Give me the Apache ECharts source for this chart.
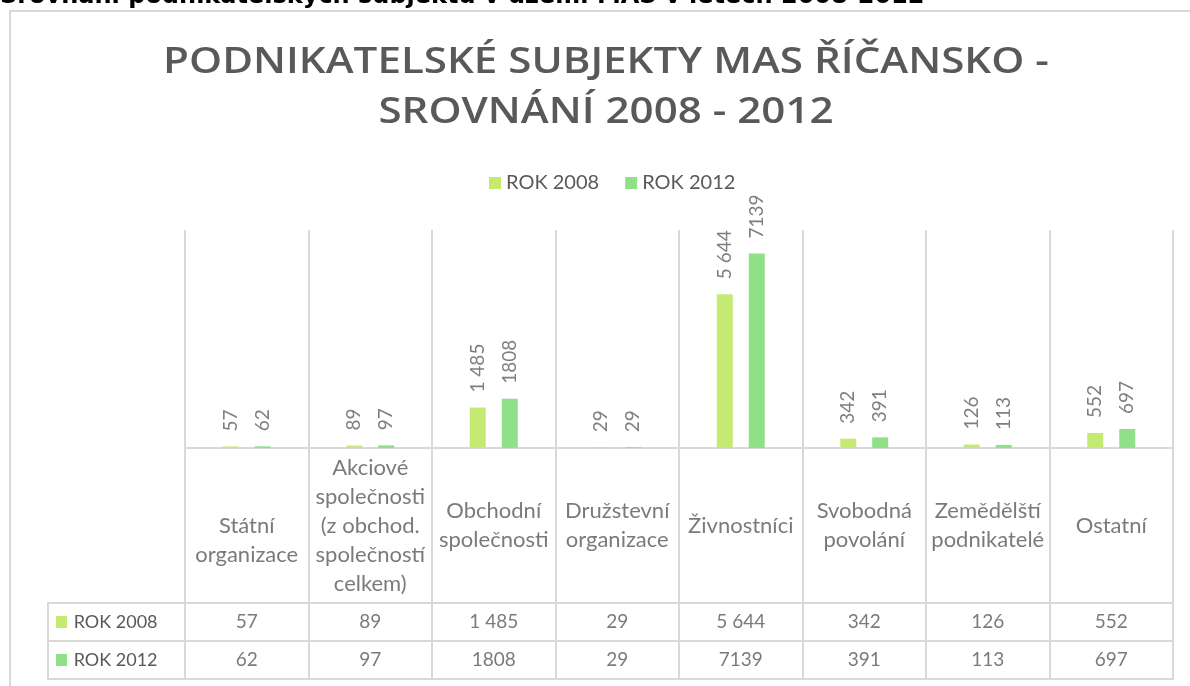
<!DOCTYPE html>
<html>
<head>
<meta charset="utf-8">
<script src="https://cdn.jsdelivr.net/npm/echarts@6/dist/echarts.min.js"></script>
<style>html,body{margin:0;padding:0;background:#fff}#c{width:1190px;height:686px}</style>
</head>
<body>
<div id="c"></div>
<script>
const pageHeading = 'Srovnání podnikatelských subjektů v území MAS v letech 2008-2012';
const chartTitle = 'PODNIKATELSKÉ SUBJEKTY MAS ŘÍČANSKO -\nSROVNÁNÍ 2008 - 2012';
const categories = ['Státní\norganizace', 'Akciové\nspolečnosti\n(z obchod.\nspolečností\ncelkem)', 'Obchodní\nspolečnosti', 'Družstevní\norganizace', 'Živnostníci', 'Svobodná\npovolání', 'Zemědělští\npodnikatelé', 'Ostatní'];
const seriesNames = ['ROK 2008', 'ROK 2012'];
const values2008 = [57, 89, 1485, 29, 5644, 342, 126, 552];
const values2012 = [62, 97, 1808, 29, 7139, 391, 113, 697];
const labels2008 = ['57', '89', '1 485', '29', '5 644', '342', '126', '552'];
const labels2012 = ['62', '97', '1808', '29', '7139', '391', '113', '697'];
const yMax = 8000;

const colors = ['#c4ea74', '#8fe088'];
const lineColor = '#d9d9d9';
const textColor = '#595959';
const font = 'Lato';

const chart = echarts.init(document.getElementById('c'), null, {renderer: 'canvas'});

const gridL = 185, gridW = 988;
const catAxis = (gi, data) => ({
  type: 'category', gridIndex: gi, data: data,
  axisLabel: {show: false}, axisTick: {show: false},
  axisLine: {show: false},
  splitLine: {show: true, lineStyle: {color: lineColor, width: 2}}
});

const labelRowData = categories.map((c, i) => {
  const d = {value: [i, 0.5]};
  if (i === 0) d.label = {offset: [0, 15]};
  return d;
});

const option = {
  animation: false,
  backgroundColor: '#fff',
  color: colors,
  legend: {
    data: seriesNames,
    left: 484, top: 168,
    itemWidth: 12, itemHeight: 12, itemGap: 26,
    icon: 'rect',
    textStyle: {fontFamily: font, fontSize: 20, color: textColor}
  },
  graphic: [
    {type: 'rect', shape: {x: 10, y: 11, width: 1220, height: 720}, style: {fill: 'none', stroke: lineColor, lineWidth: 2}, silent: true},
    {type: 'text', x: 0, y: 9, style: {text: pageHeading, font: 'bold 24px "DejaVu Sans"', fill: '#000', textVerticalAlign: 'bottom'}, silent: true},
    {type: 'text', x: 606, y: 38, scaleX: 1.17, scaleY: 1, silent: true,
      style: {text: chartTitle, font: '600 36px "Open Sans"', lineHeight: 50, fill: textColor, textAlign: 'center', textVerticalAlign: 'top', align: 'center', verticalAlign: 'top'}}
  ],
  grid: [
    {left: gridL, top: 230, width: gridW, height: 218},
    {left: gridL, top: 448, width: gridW, height: 155, show: true, borderColor: lineColor, borderWidth: 2},
    {left: gridL, top: 603, width: gridW, height: 76, show: true, borderColor: lineColor, borderWidth: 2},
    {left: 48, top: 603, width: 137, height: 76, show: true, borderColor: lineColor, borderWidth: 2}
  ],
  xAxis: [
    Object.assign(catAxis(0, categories), {axisLine: {show: true, lineStyle: {color: lineColor, width: 2}}}),
    catAxis(1, categories),
    catAxis(2, categories),
    Object.assign(catAxis(3, ['']), {splitLine: {show: false}})
  ],
  yAxis: [
    {type: 'value', gridIndex: 0, min: 0, max: yMax, show: false},
    {type: 'value', gridIndex: 1, min: 0, max: 1, show: false},
    {type: 'category', gridIndex: 2, data: seriesNames, inverse: true, axisLabel: {show: false}, axisTick: {show: false}, axisLine: {show: false},
      splitLine: {show: true, lineStyle: {color: lineColor, width: 2}}},
    {type: 'category', gridIndex: 3, data: seriesNames, inverse: true, axisTick: {show: false}, axisLine: {show: false},
      splitLine: {show: true, lineStyle: {color: lineColor, width: 2}},
      axisLabel: {
        inside: true, margin: 8,
        formatter: (v, i) => '{i' + i + '|}  {t|' + v + '}',
        rich: {
          i0: {width: 11, height: 12, backgroundColor: colors[0]},
          i1: {width: 11, height: 12, backgroundColor: colors[1]},
          t: {fontFamily: font, fontSize: 18, color: textColor}
        }
      }}
  ],
  series: [
    {
      name: seriesNames[0], type: 'bar', xAxisIndex: 0, yAxisIndex: 0,
      data: values2008, barWidth: 16, barGap: '100%',
      label: {show: true, position: 'top', rotate: 90, align: 'left', verticalAlign: 'middle', distance: 15,
        formatter: p => labels2008[p.dataIndex], fontFamily: font, fontSize: 19, color: '#7f7f7f'}
    },
    {
      name: seriesNames[1], type: 'bar', xAxisIndex: 0, yAxisIndex: 0,
      data: values2012, barWidth: 16, barGap: '100%',
      label: {show: true, position: 'top', rotate: 90, align: 'left', verticalAlign: 'middle', distance: 15,
        formatter: p => labels2012[p.dataIndex], fontFamily: font, fontSize: 19, color: '#7f7f7f'}
    },
    {
      type: 'scatter', xAxisIndex: 1, yAxisIndex: 1, symbol: 'rect', symbolSize: 1,
      itemStyle: {color: 'rgba(0,0,0,0)'}, silent: true,
      data: labelRowData,
      label: {show: true, position: 'inside', formatter: p => categories[p.dataIndex],
        fontFamily: font, fontSize: 22, lineHeight: 29, color: textColor, align: 'center'}
    },
    {
      type: 'scatter', xAxisIndex: 2, yAxisIndex: 2, symbol: 'rect', symbolSize: 1,
      itemStyle: {color: 'rgba(0,0,0,0)'}, silent: true,
      data: labels2008.map((l, i) => [i, seriesNames[0]]),
      label: {show: true, position: 'inside', formatter: p => labels2008[p.dataIndex],
        fontFamily: font, fontSize: 19, color: textColor}
    },
    {
      type: 'scatter', xAxisIndex: 2, yAxisIndex: 2, symbol: 'rect', symbolSize: 1,
      itemStyle: {color: 'rgba(0,0,0,0)'}, silent: true,
      data: labels2012.map((l, i) => [i, seriesNames[1]]),
      label: {show: true, position: 'inside', formatter: p => labels2012[p.dataIndex],
        fontFamily: font, fontSize: 19, color: textColor}
    }
  ]
};
chart.setOption(option);
</script>
</body>
</html>
